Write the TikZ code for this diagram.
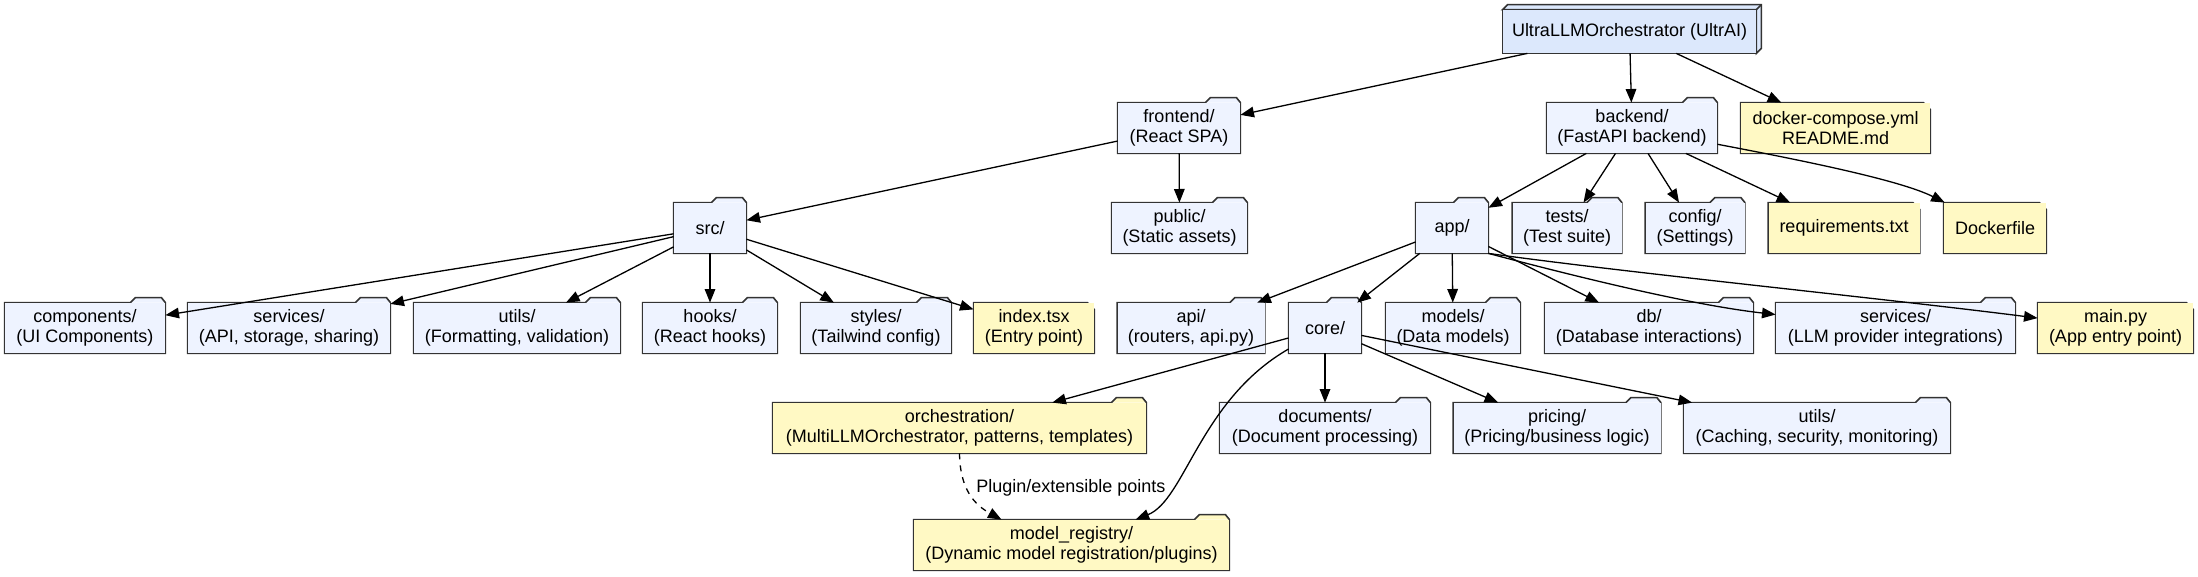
\documentclass[tikz,border=0pt]{standalone}
\usepackage{fontspec}
\setmainfont{Liberation Sans}
\usetikzlibrary{arrows.meta}
\usetikzlibrary{positioning}
\tikzset{>={Triangle[length=6.8pt,width=5.3pt]}}
\definecolor{folderfill}{RGB}{238,243,255}
\definecolor{notefill}{RGB}{255,249,196}
\definecolor{rootfill}{RGB}{220,232,252}
\definecolor{boxgray}{RGB}{51,51,51}
\tikzset{
    boxline/.style={draw=boxgray, line width=0.8pt},
    link/.style={->, line width=0.65pt},
    folder/.style={fill=#1, minimum height=25pt, inner sep=0pt, align=center,
        append after command={\pgfextra{\let\fnode\tikzlastnode
            \fill[#1] ([xshift=-17.5pt]\fnode.north east) -- ++(2.5pt,2.5pt)
                -- ([xshift=-2pt,yshift=2.5pt]\fnode.north east) -- (\fnode.north east) -- cycle;
            \draw[boxline] (\fnode.north west) -- ([xshift=-17.5pt]\fnode.north east) -- ++(2.5pt,2.5pt)
                -- ([xshift=-2pt,yshift=2.5pt]\fnode.north east) -- (\fnode.north east)
                -- (\fnode.south east) -- (\fnode.south west) -- cycle;}}},
    folder/.default=folderfill,
    note/.style={fill=notefill, minimum height=25pt, inner sep=0pt, align=center,
        append after command={\pgfextra{\let\fnode\tikzlastnode
            \fill[white] ([xshift=-3.5pt]\fnode.north east) -- (\fnode.north east)
                -- ([yshift=-3.5pt]\fnode.north east) -- cycle;
            \draw[boxline] (\fnode.north west) -- ([xshift=-3.5pt]\fnode.north east)
                -- ([yshift=-3.5pt]\fnode.north east) -- (\fnode.south east) -- (\fnode.south west) -- cycle;
            \draw[boxline] ([xshift=-3.5pt]\fnode.north east) |- ([yshift=-3.5pt]\fnode.north east);}}},
    box3d/.style={fill=rootfill, minimum height=21.5pt, inner sep=0pt, align=center,
        append after command={\pgfextra{\let\fnode\tikzlastnode
            \filldraw[boxline, fill=rootfill] (\fnode.north west) -- ++(2.5pt,2.5pt)
                -| ([xshift=2.5pt,yshift=2.5pt]\fnode.south east) -- (\fnode.south east)
                -- (\fnode.north east) -- cycle;
            \draw[boxline] (\fnode.north east) -- ++(2.5pt,2.5pt);
            \draw[boxline] (\fnode.north west) rectangle (\fnode.south east);}}},
}

\begin{document}
\begin{tikzpicture}[x=0.5pt, y=-0.5pt, font=\fontsize{9pt}{10pt}\selectfont]
	\useasboundingbox (0,0) rectangle (2198,577);
	
	\node[box3d, minimum width=126.5pt] (root) at (1629.5,31.5) {UltraLLMOrchestrator (UltrAI)};
	
	\node[folder, minimum width=61pt] (frontend) at (1179,128) {frontend/\\(React SPA)};
	\node[folder, minimum width=85pt] (backend) at (1632,128) {backend/\\(FastAPI backend)};
	\node[note, minimum width=94.5pt] (docker) at (1835.5,128) {docker-compose.yml\\README.md};
	
	\node[folder, minimum width=36pt] (src) at (710,228) {src/};
	\node[folder, minimum width=67.5pt] (public) at (1179.5,228) {public/\\(Static assets)};
	\node[folder, minimum width=36pt] (app) at (1452,228) {app/};
	\node[folder, minimum width=54.5pt] (tests) at (1567,228) {tests/\\(Test suite)};
	\node[folder, minimum width=49.5pt] (config) at (1695,228) {config/\\(Settings)};
	\node[note, minimum width=75.5pt] (reqs) at (1844,228) {requirements.txt};
	\node[note, minimum width=51pt] (dockerfile) at (1995,228) {Dockerfile};
	
	\node[folder, minimum width=80pt] (components) at (85,328) {components/\\(UI Components)};
	\node[folder, minimum width=101pt] (fservices) at (289,328) {services/\\(API, storage, sharing)};
	\node[folder, minimum width=103pt] (futils) at (517,328) {utils/\\(Formatting, validation)};
	\node[folder, minimum width=67pt] (hooks) at (710,328) {hooks/\\(React hooks)};
	\node[folder, minimum width=75pt] (styles) at (876,328) {styles/\\(Tailwind config)};
	\node[note, minimum width=60pt] (index) at (1034,328) {index.tsx\\(Entry point)};
	\node[folder, minimum width=73.5pt] (api) at (1191,328) {api/\\(routers, api.py)};
	\node[folder, minimum width=36pt] (core) at (1325,328) {core/};
	\node[folder, minimum width=67pt] (models) at (1453,328) {models/\\(Data models)};
	\node[folder, minimum width=104pt] (db) at (1649,328) {db/\\(Database interactions)};
	\node[folder, minimum width=119.5pt] (bservices) at (1895.5,328) {services/\\(LLM provider integrations)};
	\node[note, minimum width=77.5pt] (mainpy) at (2115.5,328) {main.py\\(App entry point)};
	
	\node[folder=notefill, minimum width=186.5pt] (orch) at (959.5,428) {orchestration/\\(MultiLLMOrchestrator, patterns, templates)};
	\node[folder, minimum width=105pt] (documents) at (1325,428) {documents/\\(Document processing)};
	\node[folder, minimum width=103.5pt] (pricing) at (1557,428) {pricing/\\(Pricing/business logic)};
	\node[folder, minimum width=133pt] (cutils) at (1817,428) {utils/\\(Caching, security, monitoring)};
	
	\node[folder=notefill, minimum width=157.5pt] (mreg) at (1071.5,545) {model\_registry/\\(Dynamic model registration/plugins)};
	
	\draw[link] (root) -- (frontend);
	\draw[link] (root) -- (backend);
	\draw[link] (root) -- (docker);
	\draw[link] (frontend) -- (src);
	\draw[link] (frontend) -- (public);
	\draw[link] (backend) -- (app);
	\draw[link] (backend) -- (tests);
	\draw[link] (backend) -- (config);
	\draw[link] (backend) -- (reqs);
	\draw[link] (backend) .. controls (1800,160) and (1900,180) .. (dockerfile);
	\draw[link] (src) -- (components);
	\draw[link] (src) -- (fservices);
	\draw[link] (src) -- (futils);
	\draw[link] (src) -- (hooks);
	\draw[link] (src) -- (styles);
	\draw[link] (src) -- (index);
	\draw[link] (app) -- (api);
	\draw[link] (app) -- (core);
	\draw[link] (app) -- (models);
	\draw[link] (app) -- (db);
	\draw[link] (app.south east) .. controls (1600,283) and (1700,306) .. (bservices);
	\draw[link] (app.south east) .. controls (1620,272) and (1880,298) .. (mainpy);
	\draw[link] (core) -- (orch);
	\draw[link] (core) -- (documents);
	\draw[link] (core) -- (pricing);
	\draw[link] (core) -- (cutils);
	\draw[link] (core) .. controls (1200,400) and (1185,500) .. (mreg);
	\draw[link, dashed] (orch.south) .. controls (960,490) and (975,505) .. ([xshift=-35pt]mreg.north);
	\node[anchor=west, inner sep=1pt] (plugin) at (974,488) {Plugin/extensible points};
\end{tikzpicture}
\end{document}
